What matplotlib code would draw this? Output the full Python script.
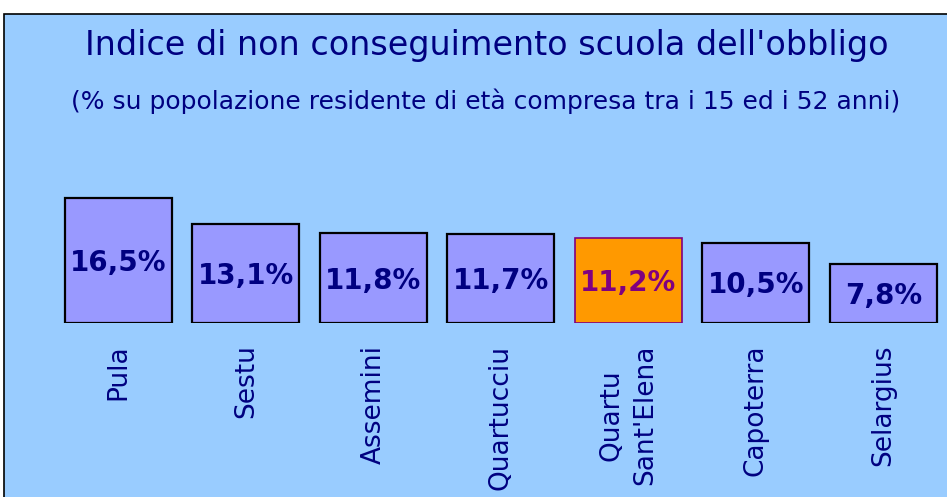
import matplotlib
matplotlib.use('Agg')
import matplotlib.pyplot as plt
from matplotlib.patches import Rectangle

# Data
comuni = ['Pula', 'Sestu', 'Assemini', 'Quartucciu', "Quartu\nSant'Elena", 'Capoterra', 'Selargius']
valori = [16.5, 13.1, 11.8, 11.7, 11.2, 10.5, 7.8]
evidenziato = "Quartu\nSant'Elena"

navy = '#000080'
viola = '#800080'
sfondo = '#99CCFF'

fig = plt.figure(figsize=(9.47, 4.97), dpi=100, facecolor='white')

# light blue panel with dark border, kept behind the axes
fig.patches.append(Rectangle((4 / 947, -0.01), 1.0, (497 - 14) / 497 + 0.01,
                             transform=fig.transFigure, facecolor=sfondo,
                             edgecolor='black', linewidth=1.2, zorder=-10))

title_font = ['Liberation Sans Narrow', 'DejaVu Sans']
fig.text(487 / 947, 1 - 45 / 497, "Indice di non conseguimento scuola dell'obbligo",
         ha='center', va='center', fontsize=24, color=navy, family=title_font)
fig.text(486 / 947, 1 - 101 / 497,
         "(% su popolazione residente di età compresa tra i 15 ed i 52 anni)",
         ha='center', va='center', fontsize=18, color=navy, family=title_font)

ax = fig.add_axes([54.7 / 947, 174 / 497, 1 - 54.7 / 947, 151.7 / 497])
ax.patch.set_visible(False)

x = list(range(len(comuni)))
colori = ['#FF9900' if c == evidenziato else '#9999FF' for c in comuni]
bordi = [viola if c == evidenziato else 'black' for c in comuni]
larghezze = [1.2 if c == evidenziato else 1.6 for c in comuni]
bars = ax.bar(x, valori, width=0.84, color=colori, edgecolor=bordi, linewidth=larghezze)

for b, v, c in zip(bars, valori, comuni):
    ax.text(b.get_x() + b.get_width() / 2, v / 2 - 0.3, f'{v:.1f}%'.replace('.', ','),
            ha='center', va='center', fontsize=20, fontweight='bold',
            color=viola if c == evidenziato else navy)

ax.set_xlim(-0.5, len(comuni) - 0.5)
ax.set_ylim(0, 20)
ax.set_xticks(x)
ax.set_xticklabels(comuni, rotation=90, ha='center', va='top', multialignment='center',
                   fontsize=19, color=navy, linespacing=1.4)
ax.tick_params(axis='x', length=0, pad=15.5)
ax.set_yticks([])
for s in ax.spines.values():
    s.set_visible(False)

fig.savefig('out.png', dpi=100, facecolor='white')
